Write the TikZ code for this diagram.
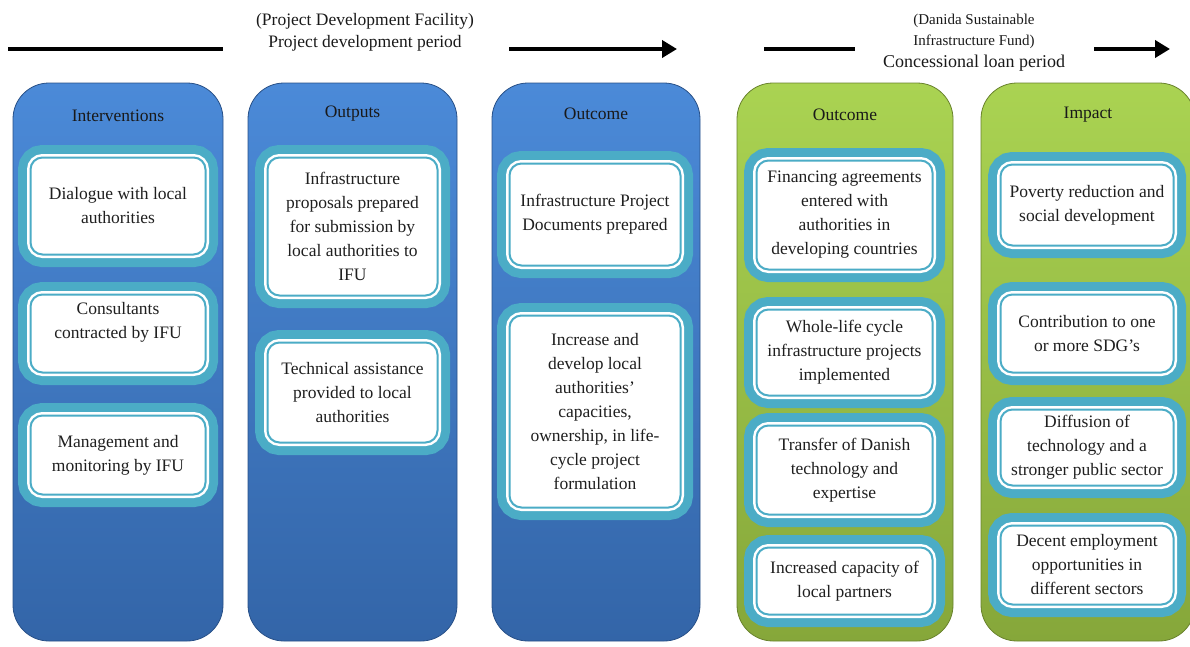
\documentclass[tikz,border=0pt]{standalone}
\usepackage{fontspec}
\setmainfont{Liberation Serif}
\usetikzlibrary{positioning}
\usetikzlibrary{arrows.meta}

\definecolor{blueTop}{RGB}{75,138,216}
\definecolor{blueMid}{RGB}{62,121,198}
\definecolor{blueBot}{RGB}{51,101,168}
\definecolor{blueEdge}{RGB}{40,80,135}
\definecolor{greenTop}{RGB}{170,211,82}
\definecolor{greenMid}{RGB}{152,192,70}
\definecolor{greenBot}{RGB}{134,167,58}
\definecolor{greenEdge}{RGB}{105,130,45}
\definecolor{boxTeal}{RGB}{75,172,198}

\tikzset{
  column/.style={rounded corners=36pt, minimum height=558pt, line width=0.8pt, inner sep=0pt},
  bluecol/.style={column, draw=blueEdge, top color=blueTop, middle color=blueMid, bottom color=blueBot},
  greencol/.style={column, draw=greenEdge, top color=greenTop, middle color=greenMid, bottom color=greenBot},
  coltitle/.style={font=\fontsize{17.5}{22}\selectfont, text=black!90},
  item/.style={rounded corners=12pt, fill=white, draw=boxTeal, line width=2pt,
    preaction={draw=boxTeal, line width=25pt},
    preaction={draw=white, line width=7pt},
    align=center, inner sep=0pt, text=black!88, font=\fontsize{17.5}{24}\selectfont},
  period/.style={line width=4pt, color=black},
  periodtext/.style={align=center, text=black!90},
}

\begin{document}
\begin{tikzpicture}[x=1pt, y=-1pt]
\useasboundingbox (0,0) rectangle (1190,646);
\clip (0,0) rectangle (1190,646);

% period headings
\node(h1)[periodtext, font=\fontsize{17.5}{22}\selectfont] at (365,32) {(Project Development Facility)\\Project development period};
\node(h2)[periodtext, font=\fontsize{15}{21}\selectfont] at (974,31) {(Danida Sustainable\\Infrastructure Fund)};
\node(h3)[periodtext, font=\fontsize{18}{22}\selectfont] at (974,63) {Concessional loan period};

\coordinate(p1s) at (8,49);
\coordinate(p1e) at (223,49);
\coordinate(p2s) at (509,49);
\coordinate(p2e) at (677,49);
\coordinate(p3s) at (764,49);
\coordinate(p3e) at (855,49);
\coordinate(p4s) at (1094,49);
\coordinate(p4e) at (1170,49);

\draw[period] (p1s)--(p1e);
\draw[period, -{Triangle[length=15pt,width=17pt]}] (p2s)--(p2e);
\draw[period] (p3s)--(p3e);
\draw[period, -{Triangle[length=15pt,width=17pt]}] (p4s)--(p4e);

% columns
\node(c1)[bluecol, minimum width=210pt] at (118,362) {};
\node(c2)[bluecol, minimum width=209pt] at (352.5,362) {};
\node(c3)[bluecol, minimum width=208pt] at (596,362) {};
\node(c4)[greencol, minimum width=216pt] at (845,362) {};
\node(c5)[greencol, minimum width=214pt] at (1088,362) {};

\node(t1)[coltitle] at ([yshift=-33pt]c1.north) {Interventions};
\node(t2)[coltitle] at ([yshift=-31pt]c2.north) {Outputs};
\node(t3)[coltitle] at ([yshift=-31pt]c3.north) {Outcome};
\node(t4)[coltitle] at ([yshift=-32pt]c4.north) {Outcome};
\node(t5)[coltitle] at ([yshift=-32pt]c5.north) {Impact};

% interventions
\node(i11)[item, minimum width=175pt, minimum height=97pt] at (118,206) {Dialogue with local\\authorities};
\node(i12)[item, minimum width=175pt, minimum height=78pt, text depth=26pt] at (118,333.5) {Consultants\\contracted by IFU};
\node(i13)[item, minimum width=175pt, minimum height=79pt] at (118,455) {Management and\\monitoring by IFU};

% outputs
\node(i21)[item, minimum width=170pt, minimum height=138pt] at (352.5,226.5) {Infrastructure\\proposals prepared\\for submission by\\local authorities to\\IFU};
\node(i22)[item, minimum width=170pt, minimum height=100pt] at (352.5,392.5) {Technical assistance\\provided to local\\authorities};

% outcome, development period
\node(i31)[item, minimum width=171pt, minimum height=102pt] at (595,214.5) {Infrastructure Project\\Documents prepared};
\node(i32)[item, minimum width=171pt, minimum height=192pt] at (595,411.5) {Increase and\\develop local\\authorities’\\capacities,\\ownership, in life-\\cycle project\\formulation};

% outcome, loan period
\node(i41)[item, minimum width=176pt, minimum height=109pt] at (844.5,215) {Financing agreements\\entered with\\authorities in\\developing countries};
\node(i42)[item, minimum width=176pt, minimum height=86pt] at (844.5,352.5) {Whole-life cycle\\infrastructure projects\\implemented};
\node(i43)[item, minimum width=176pt, minimum height=89pt] at (844.5,470) {Transfer of Danish\\technology and\\expertise};
\node(i44)[item, minimum width=176pt, minimum height=67pt] at (844.5,581) {Increased capacity of\\local partners};

% impact
\node(i51)[item, minimum width=173pt, minimum height=81pt] at (1087,205) {Poverty reduction and\\social development};
\node(i52)[item, minimum width=173pt, minimum height=78pt] at (1087,333.5) {Contribution to one\\or more SDG’s};
\node(i53)[item, minimum width=173pt, minimum height=76pt] at (1087,447.5) {Diffusion of\\technology and a\\stronger public sector};
\node(i54)[item, minimum width=173pt, minimum height=79pt] at (1087,565) {Decent employment\\opportunities in\\different sectors};
\end{tikzpicture}
\end{document}
